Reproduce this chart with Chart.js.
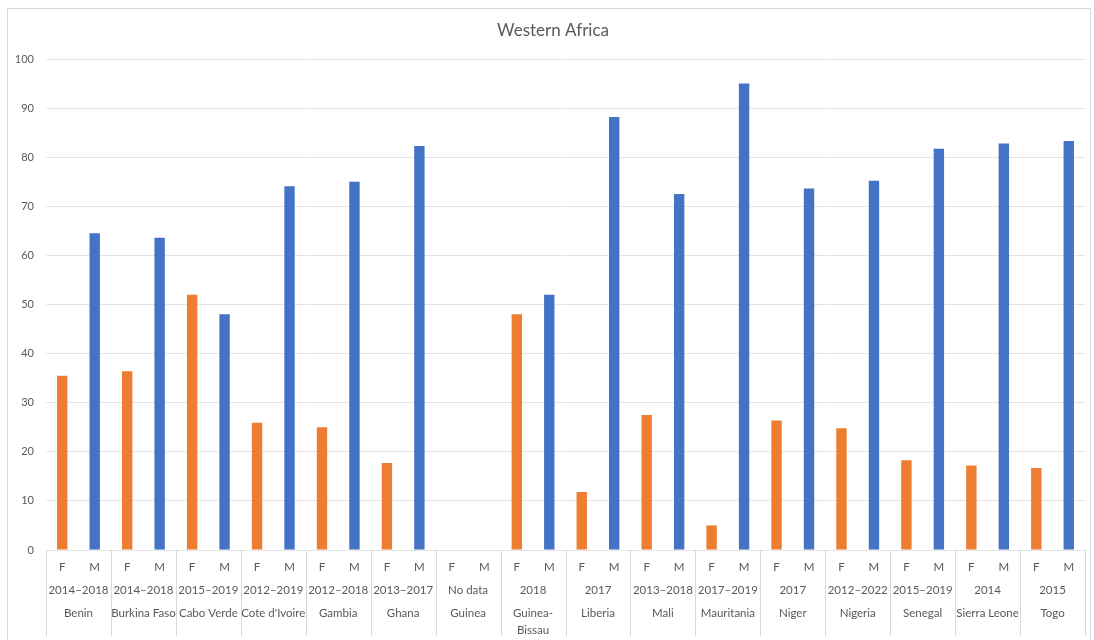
<!DOCTYPE html>
<html>
<head>
<meta charset="utf-8">
<title>Western Africa</title>
<script src="https://cdn.jsdelivr.net/npm/chart.js@4/dist/chart.umd.min.js"></script>
<style>
  html, body { margin: 0; padding: 0; background: #fff; }
  #wrap { position: relative; width: 1094px; height: 640px; }
</style>
</head>
<body>
<div id="wrap"><canvas id="chart" width="1094" height="640"></canvas></div>
<script>
// Share by sex (%) per country, with the survey years under each pair
const countries = ["Benin", "Burkina Faso", "Cabo Verde", "Cote d'Ivoire", "Gambia", "Ghana", "Guinea",
  ["Guinea-", "Bissau"], "Liberia", "Mali", "Mauritania", "Niger", "Nigeria", "Senegal", "Sierra Leone", "Togo"];
const years = ["2014\u20132018", "2014\u20132018", "2015\u20132019", "2012\u20132019", "2012\u20132018", "2013\u20132017",
  "No data", "2018", "2017", "2013\u20132018", "2017\u20132019", "2017", "2012\u20132022", "2015\u20132019", "2014", "2015"];
const sexes = ["F", "M"];
const female = [35.5, 36.4, 52, 25.9, 25, 17.7, null, 48, 11.8, 27.5, 5, 26.4, 24.8, 18.3, 17.2, 16.7];
const male = [64.5, 63.6, 48, 74.1, 75, 82.3, null, 52, 88.2, 72.5, 95, 73.6, 75.2, 81.7, 82.8, 83.3];
const yTicks = [0, 10, 20, 30, 40, 50, 60, 70, 80, 90, 100];
const title = "Western Africa";

const FONT = "Lato, 'Open Sans', sans-serif";
const TEXT = "#595959";
const LINE = "#d9d9d9";

// one slot per bar: F then M for every country
const labels = [];
const fData = [];
const mData = [];
countries.forEach((c, i) => {
  labels.push(sexes[0], sexes[1]);
  fData.push(female[i], null);
  mData.push(null, male[i]);
});

// second and third rows of the category axis plus the group dividers
const groupAxis = {
  id: "groupAxis",
  afterDraw(chart) {
    const ctx = chart.ctx;
    const x = chart.scales.x;
    const top = chart.chartArea.bottom;
    const half = (x.getPixelForValue(1) - x.getPixelForValue(0)) / 2;
    ctx.save();
    ctx.strokeStyle = LINE;
    ctx.lineWidth = 1;
    for (let i = 0; i <= countries.length; i++) {
      const px = i < countries.length ? x.getPixelForValue(i * 2) - half : x.getPixelForValue(i * 2 - 1) + half;
      ctx.beginPath();
      ctx.moveTo(Math.round(px) + 0.5, top);
      ctx.lineTo(Math.round(px) + 0.5, 636);
      ctx.stroke();
    }
    ctx.fillStyle = TEXT;
    ctx.font = "11.5px " + FONT;
    ctx.textAlign = "center";
    ctx.textBaseline = "middle";
    countries.forEach((c, i) => {
      const cx = (x.getPixelForValue(i * 2) + x.getPixelForValue(i * 2 + 1)) / 2;
      ctx.fillText(years[i], cx, 590);
      const lines = Array.isArray(c) ? c : [c];
      lines.forEach((t, k) => ctx.fillText(t, cx, 613 + k * 17));
    });
    ctx.restore();
  }
};

// outer frame and the heading
const frame = {
  id: "frame",
  beforeDraw(chart) {
    const ctx = chart.ctx;
    ctx.save();
    ctx.strokeStyle = LINE;
    ctx.lineWidth = 1;
    ctx.strokeRect(7.5, 8.5, 1083, 640);
    ctx.fillStyle = TEXT;
    ctx.font = "17px " + FONT;
    ctx.textAlign = "center";
    ctx.textBaseline = "middle";
    ctx.fillText(title, 553, 31);
    ctx.restore();
  }
};

new Chart(document.getElementById("chart").getContext("2d"), {
  type: "bar",
  data: {
    labels: labels,
    datasets: [
      { label: "F", data: fData, backgroundColor: "#ED7D31" },
      { label: "M", data: mData, backgroundColor: "#4472C4" }
    ]
  },
  options: {
    responsive: false,
    animation: false,
    grouped: false,
    barPercentage: 0.32,
    categoryPercentage: 1,
    layout: { padding: { left: 0, right: 9, top: 59, bottom: 0 } },
    plugins: {
      legend: { display: false },
      tooltip: { enabled: false },
      title: { display: false }
    },
    scales: {
      x: {
        grid: { display: false, drawTicks: false },
        border: { display: false },
        ticks: { color: TEXT, font: { family: FONT, size: 11.5 }, padding: 10, autoSkip: false, maxRotation: 0 },
        afterFit(scale) { scale.height = 90; }
      },
      y: {
        min: 0,
        max: 100,
        afterBuildTicks(scale) { scale.ticks = yTicks.map(v => ({ value: v })); },
        grid: { color: "#e4e4e4", drawTicks: false },
        border: { display: false },
        ticks: { color: TEXT, font: { family: FONT, size: 11 }, padding: 12 },
        afterFit(scale) { scale.width = 46; }
      }
    }
  },
  plugins: [frame, groupAxis]
});
</script>
</body>
</html>
